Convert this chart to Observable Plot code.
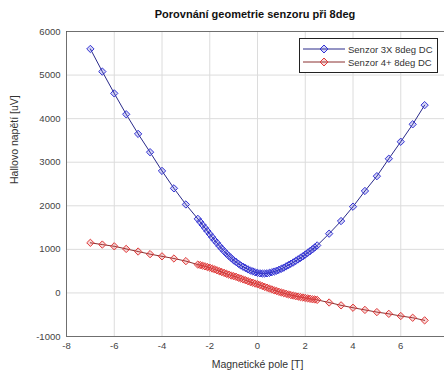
<!DOCTYPE html>
<html>
<head>
<meta charset="utf-8">
<script src="https://cdn.jsdelivr.net/npm/d3@7"></script>
<script src="https://cdn.jsdelivr.net/npm/@observablehq/plot@0.6"></script>
<style>
  html, body { margin: 0; padding: 0; background: #fff; overflow: hidden; }
  #wrap { position: relative; width: 444px; height: 373px; overflow: hidden; font-family: "Liberation Sans", Arial, sans-serif; }
  #title { position: absolute; left: 66px; width: 378px; top: 8px; text-align: center; font-weight: bold; font-size: 11px; color: #111; }
  #legend { position: absolute; left: 299px; top: 38px; width: 137px; height: 33px; border: 1px solid #222; background: #fff; font-size: 9.5px; color: #333; }
  .row { position: absolute; left: 3px; height: 14px; display: flex; align-items: center; }
  .row svg { margin-right: 3px; }
</style>
</head>
<body>
<div id="wrap">
  <div id="title">Porovnání geometrie senzoru při 8deg</div>
</div>
<script>
// Magnetic field steps [T]: coarse 0.5 T outside ±2.5 T, fine 0.1 T inside
const outerLeft = [-7, -6.5, -6, -5.5, -5, -4.5, -4, -3.5, -3];
const innerField = [-2.5,-2.4,-2.3,-2.2,-2.1,-2.0,-1.9,-1.8,-1.7,-1.6,-1.5,-1.4,-1.3,-1.2,-1.1,-1.0,-0.9,-0.8,-0.7,-0.6,-0.5,-0.4,-0.3,-0.2,-0.1,0.0,0.1,0.2,0.3,0.4,0.5,0.6,0.7,0.8,0.9,1.0,1.1,1.2,1.3,1.4,1.5,1.6,1.7,1.8,1.9,2.0,2.1,2.2,2.3,2.4,2.5];
const outerRight = [3, 3.5, 4, 4.5, 5, 5.5, 6, 6.5, 7];

// Hall voltage [uV], sensor 3X
const s3xLeft = [5600, 5080, 4580, 4100, 3650, 3230, 2800, 2400, 2030];
const s3xInner = [1700,1630,1560,1490,1420,1350,1280,1210,1150,1080,1020,960,900,850,800,750,710,670,630,600,570,540,515,495,475,460,450,445,445,450,460,475,490,510,530,555,580,610,640,670,700,735,770,805,840,880,920,960,1000,1045,1090];
const s3xRight = [1360, 1650, 1980, 2340, 2680, 3080, 3470, 3870, 4310];

// Hall voltage [uV], sensor 4+
const s4Left = [1150, 1110, 1070, 1010, 950, 890, 840, 790, 730];
const s4Inner = [650,640,625,610,595,580,560,540,520,500,480,460,440,420,400,385,370,350,330,310,290,270,250,235,215,200,180,160,140,120,100,80,60,45,25,10,-5,-20,-35,-50,-60,-75,-85,-95,-105,-115,-125,-135,-145,-150,-160];
const s4Right = [-220, -285, -340, -390, -440, -480, -530, -570, -630];

// Grid positions; the label at +8 falls past the right edge of the page
const xGrid = [-8, -6, -4, -2, 0, 2, 4, 6, 8];
const xTickLabels = [-8, -6, -4, -2, 0, 2, 4, 6];
const yTicks = [-1000, 0, 1000, 2000, 3000, 4000, 5000, 6000];

const field = [...outerLeft, ...innerField, ...outerRight];
const series = [
  {name: "Senzor 3X 8deg DC", values: [...s3xLeft, ...s3xInner, ...s3xRight], marker: "#3434d4", line: "#2a2a8a"},
  {name: "Senzor 4+ 8deg DC", values: [...s4Left, ...s4Inner, ...s4Right], marker: "#e03a3a", line: "#8a3030"}
];
const rows = series.flatMap(s => s.values.map((v, i) => ({B: field[i], U: v, name: s.name})));
const plain = d => String(d);

const chart = Plot.plot({
  width: 444,
  height: 373,
  marginTop: 31,
  marginBottom: 37,
  marginLeft: 66,
  marginRight: -4,
  style: {fontFamily: "Liberation Sans, Arial, sans-serif", fontSize: "9.5px", color: "#444", background: "#fff"},
  x: {domain: [-8, 8], label: null},
  y: {domain: [-1000, 6000], label: null},
  marks: [
    Plot.gridX(xGrid, {stroke: "#dcdcdc", strokeOpacity: 1}),
    Plot.gridY(yTicks, {stroke: "#dcdcdc", strokeOpacity: 1}),
    Plot.frame({stroke: "#555", strokeWidth: 0.8}),
    Plot.axisX({ticks: xTickLabels, tickFormat: plain, tickSize: 0, tickPadding: 6, label: null, fill: "#444"}),
    Plot.axisY({ticks: yTicks, tickFormat: plain, tickSize: 0, tickPadding: 6, label: null, fill: "#444"}),
    ...series.map(s => Plot.line(rows.filter(d => d.name === s.name), {x: "B", y: "U", stroke: s.line, strokeWidth: 1})),
    ...series.map(s => Plot.dot(rows.filter(d => d.name === s.name), {x: "B", y: "U", symbol: "diamond2", r: 3.3, stroke: s.marker, strokeWidth: 1, fill: s.marker, fillOpacity: 0.2})),
    Plot.text(["Magnetické pole [T]"], {frameAnchor: "bottom", dy: 31, fontSize: 10.5, fill: "#333"}),
    Plot.text(["Hallovo napětí [uV]"], {frameAnchor: "left", dx: -52, rotate: -90, fontSize: 10.5, fill: "#333"})
  ]
});
chart.style.position = "absolute";
chart.style.left = "0";
chart.style.top = "0";
chart.style.overflow = "visible";
const wrap = document.getElementById("wrap");
wrap.prepend(chart);

// Legend box
const legend = document.createElement("div");
legend.id = "legend";
series.forEach((s, i) => {
  const row = document.createElement("div");
  row.className = "row";
  row.style.top = (3 + i * 13) + "px";
  row.innerHTML = `<svg width="42" height="10"><line x1="0" x2="42" y1="5" y2="5" stroke="${s.line}" stroke-width="1"/>` +
    `<path d="M21,1 L25,5 L21,9 L17,5 Z" fill="${s.marker}" fill-opacity="0.2" stroke="${s.marker}"/></svg><span>${s.name}</span>`;
  legend.appendChild(row);
});
wrap.appendChild(legend);
</script>
</body>
</html>
